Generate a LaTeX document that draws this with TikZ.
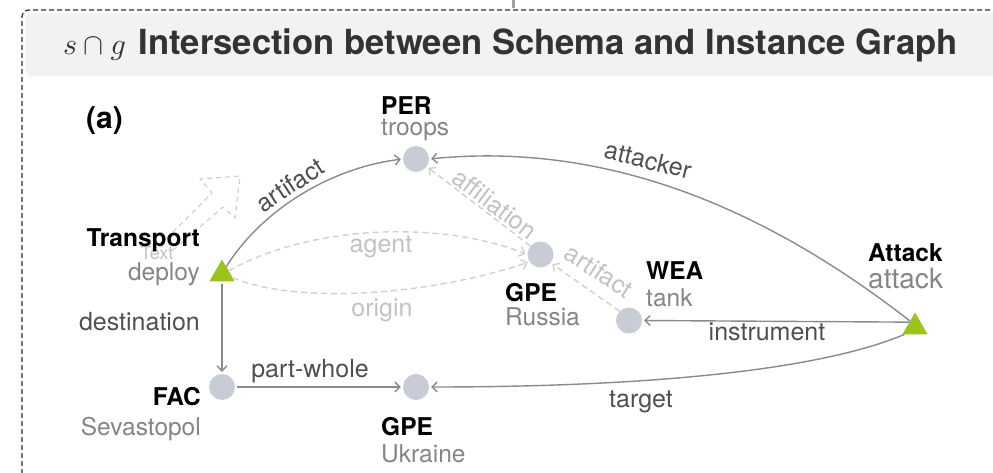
\documentclass[tikz,border=0pt]{standalone}
\usepackage{fontspec}
\setmainfont{TeX Gyre Heros}
\usetikzlibrary{arrows.meta,shapes.geometric,calc}

\definecolor{framegray}{HTML}{333333}
\definecolor{bandgray}{HTML}{F2F2F2}
\definecolor{titlegray}{HTML}{333333}
\definecolor{entgray}{HTML}{C8CCD5}
\definecolor{evtgreen}{HTML}{9CC31C}
\definecolor{namegray}{HTML}{858585}
\definecolor{edgegray}{HTML}{8A8A8A}
\definecolor{labgray}{HTML}{4F4F4F}
\definecolor{ghostline}{HTML}{CFCFCF}
\definecolor{ghosttext}{HTML}{C2C2C2}

\begin{document}
\begin{tikzpicture}[x=1pt,y=-1pt,
  ent/.style={circle, fill=entgray, minimum size=26pt, inner sep=0pt},
  evt/.style={regular polygon, regular polygon sides=3, fill=evtgreen, minimum size=29pt, inner sep=0pt},
  typ/.style={font=\fontsize{24.5}{28}\selectfont\bfseries, inner sep=0pt, text=black},
  nam/.style={font=\fontsize{24.5}{28}\selectfont, inner sep=0pt, text=namegray},
  rel/.style={draw=edgegray, line width=1.4pt, shorten >=2pt,
              -{Straight Barb[length=5pt,width=10pt,line width=1.4pt]}},
  weak/.style={draw=ghostline, line width=1.4pt, dash pattern=on 6pt off 4pt, shorten >=2pt,
              -{Straight Barb[length=5pt,width=10pt,line width=1.4pt]}},
  rlab/.style={font=\fontsize{25}{30}\selectfont, text=labgray, inner sep=0pt},
  wlab/.style={font=\fontsize{25}{30}\selectfont, text=ghosttext, inner sep=0pt}
]
\useasboundingbox (0,0) rectangle (993,473);
\clip (0,0) rectangle (993,473);

% frame and title band
\draw[edgegray!80, line width=3pt] (513,0) -- (513,8);
\fill[bandgray, rounded corners=7pt] (25,13) rectangle (1010,76);
\draw[framegray, line width=1.3pt, dash pattern=on 5pt off 3pt, rounded corners=7pt]
  (22,490) -- (22,10) -- (1010,10);
\node[anchor=base west, inner sep=0pt, text=titlegray, font=\fontsize{10}{12}\selectfont]
  (sg) at (63,55) {\scalebox{3.0}{$s\cap g$}};
\node[anchor=base east, inner sep=0pt, text=titlegray, font=\fontsize{34.6}{40}\selectfont\bfseries]
  (ttl) at (958,55) {Intersection between Schema and Instance Graph};
\node[anchor=base west, inner sep=0pt, font=\fontsize{30}{34}\selectfont\bfseries]
  (lbla) at (86,129) {(a)};

% faint placeholder arrow
\draw[ghostline, line width=1.2pt, dash pattern=on 5pt off 4pt, line join=round]
  (160,245) -- (212,193) -- (200,179) -- (240,176) -- (235,218) -- (223,207) -- (173,250);
\node[anchor=base, inner sep=0pt, text=ghosttext, font=\fontsize{18}{20}\selectfont] (txt) at (157,259) {Text};

% entity and event nodes
\node[ent] (per) at (416,159) {};
\node[ent] (gpr) at (540.5,254.5) {};
\node[ent] (wea) at (629,320.5) {};
\node[ent] (fac) at (222,387) {};
\node[ent] (gpu) at (416,387) {};
\node[evt] (tra) at (222,274) {};
\node[evt] (atk) at (915,327) {};

% node labels
\node[typ, anchor=base west] (perT) at (381,115) {PER};
\node[nam, anchor=base west] (perN) at (381,136) {troops};
\node[typ, anchor=base west] (gprT) at (505,301) {GPE};
\node[nam, anchor=base west] (gprN) at (505,325) {Russia};
\node[typ, anchor=base west] (weaT) at (646,279) {WEA};
\node[nam, anchor=base west] (weaN) at (646,306) {tank};
\node[typ, anchor=base west] (atkT) at (868,261) {Attack};
\node[nam, anchor=base west, font=\fontsize{28}{32}\selectfont] (atkN) at (868,288) {attack};
\node[typ, anchor=base east] (traT) at (200,246) {Transport};
\node[nam, anchor=base east] (traN) at (200,280) {deploy};
\node[typ, anchor=base east] (facT) at (201,405) {FAC};
\node[nam, anchor=base east] (facN) at (201,435) {Sevastopol};
\node[typ, anchor=base west] (gpuT) at (381,435) {GPE};
\node[nam, anchor=base west] (gpuN) at (381,462) {Ukraine};

% faint (schema-only) relations
\draw[weak] (tra.25) .. controls (310,225) and (440,220) .. (gpr.west);
\draw[weak] (tra.-20) .. controls (300,305) and (430,295) .. (gpr.214);
\draw[weak] (gpr.140) -- (per.-35);
\draw[weak] (wea.135) -- (gpr.-40);
\node[wlab] (lagent) at (381,247) {agent};
\node[wlab] (lorigin) at (382,310) {origin};
\node[wlab, rotate=-37] (laffil) at (495,204) {affiliation};
\node[wlab, rotate=-33] (lart2) at (599,271) {artifact};

% instance relations
\draw[rel] (tra.60) .. controls (262,210) and (330,168) .. (per.west);
\draw[rel] (atk.130) .. controls (780,220) and (620,140) .. (per.east);
\draw[rel] (atk.140) -- (wea.east);
\draw[rel] (atk.215) .. controls (820,370) and (650,387) .. (gpu.east);
\draw[rel, shorten <=3pt] (tra.south) -- (fac.north);
\draw[rel, shorten <=2pt] (fac.east) -- (gpu.west);
\node[rlab, rotate=33] (lart1) at (290,185) {artifact};
\node[rlab, rotate=-14] (latt) at (648,160) {attacker};
\node[rlab] (linst) at (767,332) {instrument};
\node[rlab] (ltarget) at (641,402) {target};
\node[rlab, anchor=east] (ldest) at (200,322) {destination};
\node[rlab] (lpw) at (310,371) {part-whole};
\end{tikzpicture}
\end{document}
